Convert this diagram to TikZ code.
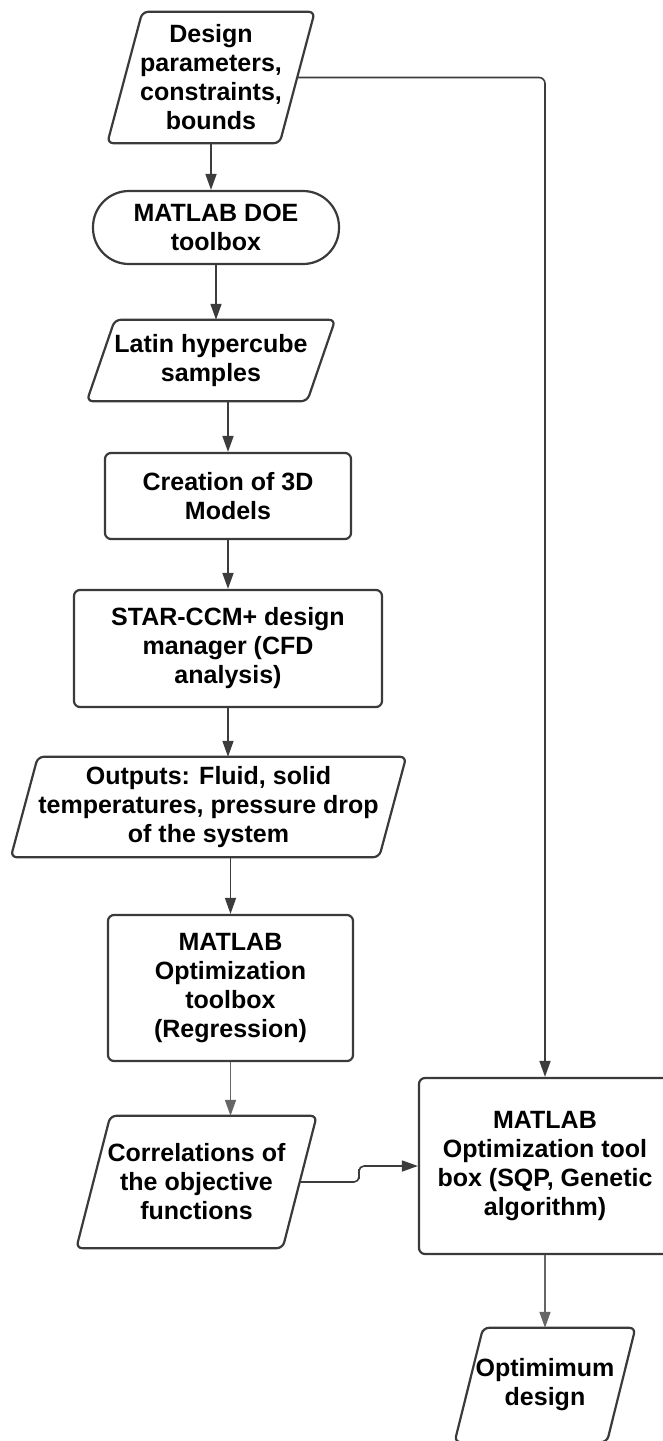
\documentclass[tikz,border=0pt]{standalone}
\usepackage{fontspec}
\setmainfont{Liberation Sans}
\usetikzlibrary{arrows.meta}
\definecolor{edgecol}{HTML}{3A3A3A}
\definecolor{conncol}{HTML}{3C3C3C}
\definecolor{connlightcol}{HTML}{666666}
\tikzset{
  lbl/.style={inner sep=0pt, align=center, font=\fontsize{25}{29}\selectfont\bfseries},
  boxnode/.style={lbl, draw=edgecol, line width=2.2pt, rounded corners=6pt, fill=white},
  stadiumnode/.style={lbl, draw=edgecol, line width=2.2pt, rounded corners=36pt, fill=white},
  paranode/.style={lbl},
  paraline/.style={draw=edgecol, line width=2.2pt, rounded corners=6pt},
  conn/.style={draw=conncol, line width=1.6pt, -{Triangle[length=16pt,width=11pt]}},
  connlight/.style={conn, draw=connlightcol},
}
\newcommand{\parashape}[2]{%
  \draw[paraline] ([xshift=#2pt]#1.north west) -- ([xshift=#2pt]#1.north east)
    -- ([xshift=-#2pt]#1.south east) -- ([xshift=-#2pt]#1.south west) -- cycle;}
\begin{document}
\begin{tikzpicture}[x=1pt,y=-1pt]
\fill[white] (0,0) rectangle (662,1441);
\useasboundingbox (0,0) rectangle (662,1441);

\node[paranode, minimum width=172pt, minimum height=131pt] (design) at (211,77.5)
  {Design\\parameters,\\constraints,\\bounds};
\parashape{design}{17.5}

\node[stadiumnode, minimum width=246pt, minimum height=73pt] (doe) at (216,227.5)
  {MATLAB DOE\\toolbox};

\node[paranode, minimum width=220pt, minimum height=81pt] (latin) at (211,360.5)
  {Latin hypercube\\samples};
\parashape{latin}{14}

\node[boxnode, minimum width=246pt, minimum height=86pt] (creation) at (228,496)
  {Creation of 3D\\Models};

\node[boxnode, minimum width=308pt, minimum height=117pt] (star) at (228,648.5)
  {STAR-CCM+ design\\manager (CFD\\analysis)};

\node[paranode, minimum width=368pt, minimum height=100pt] (outputs) at (208.5,807)
  {Outputs: Fluid, solid\\temperatures, pressure drop\\of the system};
\parashape{outputs}{13.5}

\node[boxnode, minimum width=245pt, minimum height=146pt] (regr) at (230.5,988)
  {MATLAB\\Optimization\\toolbox\\(Regression)};

\node[paranode, minimum width=206pt, minimum height=132pt] (corr) at (196.5,1182)
  {Correlations of\\the objective\\functions};
\parashape{corr}{17}

\node[boxnode, minimum width=252pt, minimum height=176pt] (optbox) at (545,1166)
  {MATLAB\\Optimization tool\\box (SQP, Genetic\\algorithm)};

\node[paranode, minimum width=152pt, minimum height=114pt] (opt) at (545,1385)
  {Optimimum\\design};
\parashape{opt}{14.25}

% connectors
\draw[conn] (design.south) -- (design.south |- doe.north);
\draw[conn] (doe.south) -- (doe.south |- latin.north);
\draw[conn] (creation.north |- latin.south) -- (creation.north);
\draw[conn] (creation.south) -- (star.north);
\draw[conn] (star.south) -- (star.south |- outputs.north);
\draw[conn] (regr.north |- outputs.south) -- (regr.north);
\draw[connlight] (regr.south) -- (regr.south |- corr.north);
\coordinate (jog) at (359,1174);
\draw[conn, rounded corners=5pt] (corr.east) -| (jog) |- (optbox.west);
\draw[conn, rounded corners=6pt] (design.east) -| (optbox.north);
\draw[connlight] (optbox.south) -- (optbox.south |- opt.north);
\end{tikzpicture}
\end{document}
